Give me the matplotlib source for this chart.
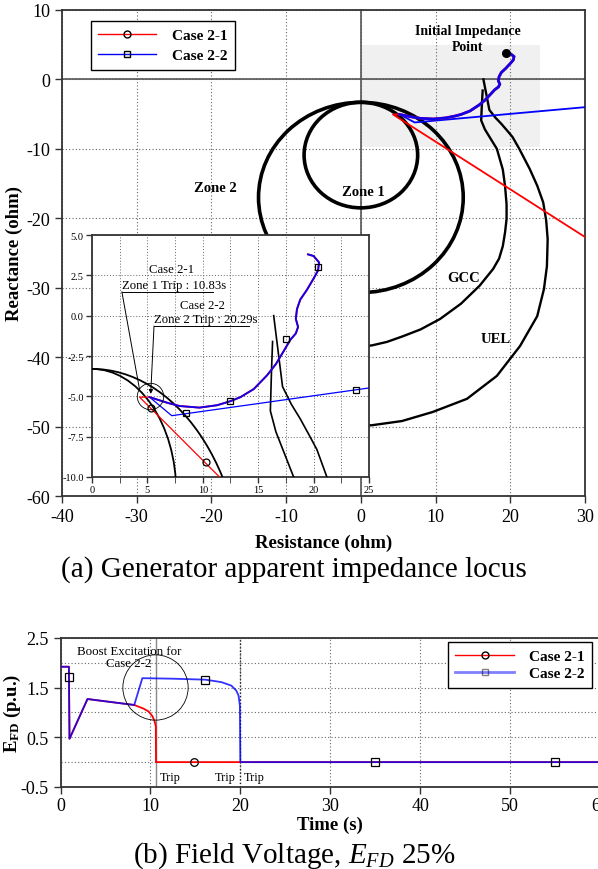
import numpy as np
import matplotlib
matplotlib.use('Agg')
import matplotlib.pyplot as plt
from matplotlib.patches import Circle, Rectangle
from matplotlib.lines import Line2D

plt.rcParams['font.family'] = ['Liberation Serif', 'DejaVu Serif']
plt.rcParams['mathtext.fontset'] = 'custom'
plt.rcParams['mathtext.rm'] = 'Liberation Serif'
plt.rcParams['mathtext.it'] = 'Liberation Serif:italic'
plt.rcParams['mathtext.bf'] = 'Liberation Serif:bold'
plt.rcParams['axes.unicode_minus'] = False

# ---------------- impedance plane data (ohm) ----------------
# pre-fault / swing locus, common to both cases
locus_r = [19.5, 20.0, 20.5, 20.4, 20.0, 19.4, 18.8, 18.5, 18.4, 18.6, 18.4,
           17.9, 17.3, 16.6, 15.8, 14.6, 13.4, 12.5, 11.3, 9.7, 7.9, 6.8, 5.2]
locus_x = [3.8, 3.7, 3.3, 2.8, 2.3, 1.6, 1.0, 0.4, -0.2, -0.7, -1.1,
           -1.5, -2.2, -3.0, -3.7, -4.55, -5.05, -5.3, -5.55, -5.7, -5.6, -5.4, -5.05]
# after the trip
case1_r = [5.2, 4.3, 30.0]
case1_x = [-5.05, -5.05, -22.7]
case2_r = [5.2, 7.2, 30.0]
case2_x = [-5.05, -6.2, -4.0]
# markers
case1_mr = [5.3, 10.3]
case1_mx = [-5.7, -9.1]
case2_mr = [20.4, 17.5, 12.5, 8.5, 23.8]
case2_mx = [3.0, -1.45, -5.3, -6.05, -4.6]
init_r, init_x = 19.4, 3.8

# relay characteristics: (centre R, centre X, radius)
zone1 = (0.0, -10.9, 7.6)
zone2 = (0.0, -17.0, 13.7)
gcc_r = [16.3, 16.2, 16.1, 16.6, 17.4, 18.2, 19.0, 19.3, 19.5, 19.5, 19.3, 19.0,
         18.5, 17.7, 15.9, 13.4, 10.6, 8.0, 5.6, 3.5, 1.5, -3.0]
gcc_x = [-1.6, -3.5, -5.9, -7.2, -8.6, -10.0, -13.0, -15.4, -18.0, -20.1, -22.0, -24.0,
         -25.8, -27.3, -29.7, -32.3, -34.5, -36.0, -37.0, -37.8, -38.3, -38.9]
uel_r = [16.4, 16.8, 17.2, 18.0, 18.8, 19.6, 20.3, 21.2, 22.6, 23.6, 24.4, 24.8, 25.0,
         24.9, 24.5, 23.6, 21.3, 18.2, 14.2, 9.6, 5.5, 1.5, -3.0]
uel_x = [0.0, -2.2, -4.4, -5.5, -6.4, -7.4, -8.3, -10.0, -12.9, -15.3, -17.7, -20.3, -23.0,
         -26.9, -30.2, -34.1, -38.4, -42.7, -46.0, -47.9, -49.2, -49.8, -50.1]

# ---------------- field voltage data ----------------
t_c1 = [0, 0.93, 1.0, 3.0, 8.2, 9.2, 9.8, 10.2, 10.45, 10.6, 10.62, 60]
efd_c1 = [1.92, 1.92, 0.47, 1.27, 1.15, 1.08, 1.02, 0.93, 0.83, 0.72, 0.0, 0.0]
t_c2 = [0, 0.93, 1.0, 3.0, 8.2, 9.1, 12.3, 16.1, 17.9, 19.0, 19.55, 19.8, 19.95, 20.0, 60]
efd_c2 = [1.92, 1.92, 0.47, 1.27, 1.15, 1.69, 1.68, 1.66, 1.61, 1.54, 1.44, 1.34, 1.14, 0.0, 0.0]
c1_mt, c1_me = [14.9], [0.0]
c2_mt, c2_me = [0.95, 16.1, 35.0, 55.0], [1.72, 1.66, 0.0, 0.0]
trip_times = [10.6, 20.0]

fig = plt.figure(figsize=(5.98, 8.70), dpi=100)

def style(ax, size, tlen):
    for s in ax.spines.values():
        s.set_color('#333333')
        s.set_linewidth(1.3)
    ax.tick_params(labelsize=size, length=tlen, color='#333333', width=1)

def draw_plane(ax, zlw, clw, llw):
    for cr, cx, rad in (zone1, zone2):
        ax.add_patch(Circle((cr, cx), rad, fill=False, ec='k', lw=zlw, zorder=3))
    ax.plot(gcc_r, gcc_x, 'k', lw=clw, zorder=3)
    ax.plot(uel_r, uel_x, 'k', lw=clw, zorder=3)
    ax.plot(case1_r, case1_x, color='red', lw=llw, zorder=4)
    ax.plot(case2_r, case2_x, color='blue', lw=llw, zorder=4)
    ax.plot(locus_r, locus_x, color='red', lw=llw * 1.5, zorder=4)
    ax.plot(locus_r, locus_x, color='blue', lw=llw * 1.5, alpha=0.93, zorder=5)

def make_legend(ax, anchor, spacing):
    h1 = Line2D([], [], color='red', lw=1, marker='o', mfc='none', mec='k', ms=5)
    h2 = Line2D([], [], color='blue', lw=1, marker='s', mfc='none', mec='k', ms=5)
    leg = ax.legend([h1, h2], ['Case 2-1', 'Case 2-2'], loc='upper left',
                    bbox_to_anchor=anchor, borderaxespad=0, fancybox=False,
                    edgecolor='k', framealpha=1, prop={'weight': 'bold', 'size': 11},
                    handlelength=3.8, handletextpad=1.0, numpoints=1,
                    labelspacing=spacing, borderpad=0.5)
    leg.get_frame().set_linewidth(1)
    return leg

# ---------------- (a) impedance locus ----------------
ax = fig.add_axes([0.1037, 0.4287, 0.8746, 0.5587])
ax.set_xlim(-40, 30)
ax.set_ylim(-60, 10)
ax.set_xticks(np.arange(-40, 31, 10))
ax.set_yticks(np.arange(-60, 11, 10))
ax.set_axisbelow(True)
ax.grid(ls=(0, (1, 2)), color='#666666', lw=0.8)
ax.add_patch(Rectangle((0, -9.8), 24, 14.8, fc='#f0f0f0', ec='none', zorder=0.2))
ax.axhline(0, color='#555555', lw=1.2, zorder=1)
ax.axvline(0, color='#555555', lw=1.2, zorder=1)
style(ax, 13, 5)
draw_plane(ax, 2.6, 1.7, 1.3)
ax.plot(init_r, init_x, 'ko', ms=5.5, zorder=6)

ax.text(-19.5, -15.5, 'Zone 2', fontsize=10.5, fontweight='bold', ha='center', va='center')
ax.text(0.3, -16.2, 'Zone 1', fontsize=10.5, fontweight='bold', ha='center', va='center')
ax.text(13.7, -28.5, 'GCC', fontsize=10.5, fontweight='bold', ha='center', va='center')
ax.text(18.0, -37.3, 'UEL', fontsize=10.5, fontweight='bold', ha='center', va='center')
ax.text(14.3, 5.9, 'Initial Impedance\nPoint', fontsize=10, fontweight='bold',
        ha='center', va='center', linespacing=1.35)

ax.set_xlabel('Resistance (ohm)', fontsize=13.5, fontweight='bold')
ax.set_ylabel('Reactance (ohm)', fontsize=13.5, fontweight='bold')
ax.xaxis.set_label_coords(0.5, -0.077)
ax.yaxis.set_label_coords(-0.075, 0.5)
make_legend(ax, (0.055, 0.977), 0.38)

# inset zoom
axin = fig.add_axes([0.1538, 0.4506, 0.4632, 0.2781])
axin.set_xlim(0, 25)
axin.set_ylim(-10, 5)
axin.set_xticks(np.arange(0, 26, 5))
axin.set_xticks(np.arange(0, 26, 2.5), minor=True)
axin.set_yticks(np.arange(-10, 5.1, 2.5))
axin.set_yticklabels(['%.1f' % v for v in np.arange(-10, 5.1, 2.5)])
axin.grid(which='both', ls=(0, (1, 2)), color='#666666', lw=0.7)
axin.set_axisbelow(True)
style(axin, 7.5, 4)
axin.tick_params(which='minor', length=4, color='#333333')
axin.tick_params(pad=2)
draw_plane(axin, 1.3, 1.2, 0.9)
axin.plot(case1_mr, case1_mx, 'o', mfc='none', mec='k', ms=5, mew=0.9, zorder=7)
axin.plot(case2_mr, case2_mx, 's', mfc='none', mec='k', ms=5, mew=0.9, zorder=7)

# trip annotations
trip_pt = (5.23, -5.0)
axin.plot(*trip_pt, 'o', ms=19, mfc='none', mec='k', mew=0.6, zorder=6)
axin.text(7.2, 2.9, 'Case 2-1', fontsize=9.2, ha='center', va='center')
axin.text(2.7, 1.55, 'Zone 1 Trip : 10.83s', fontsize=9.2, ha='left', va='bottom')
axin.plot([2.7, 10.9], [1.47, 1.47], 'k', lw=0.7)
axin.plot([2.7, 4.3], [1.47, -4.6], 'k', lw=0.7)
axin.text(10.0, 0.66, 'Case 2-2', fontsize=9.2, ha='center', va='center')
axin.text(5.6, -0.56, 'Zone 2 Trip : 20.29s', fontsize=9.2, ha='left', va='bottom')
axin.plot([5.6, 14.2], [-0.64, -0.64], 'k', lw=0.7)
axin.annotate('', xy=(5.3, -4.85), xytext=(5.6, -0.64),
              arrowprops=dict(arrowstyle='-|>', lw=0.7, color='k', mutation_scale=6,
                              shrinkA=0, shrinkB=0))

fig.text(0.492, 0.345, '(a) Generator apparent impedance locus', fontsize=21,
         ha='center', va='center')

# ---------------- (b) field voltage ----------------
axb = fig.add_axes([0.1012, 0.0943, 0.9021, 0.1713])
axb.set_xlim(0, 60)
axb.set_ylim(-0.5, 2.5)
axb.set_xticks(np.arange(0, 61, 10))
axb.set_yticks([-0.5, 0.5, 1.5, 2.5])
axb.set_yticks([0.0, 1.0, 2.0], minor=True)
axb.tick_params(which='minor', length=0)
axb.set_axisbelow(True)
axb.grid(which='both', ls=(0, (1, 2)), color='#666666', lw=0.8)
style(axb, 13, 5)
axb.tick_params(axis='x', pad=2)
axb.axvline(trip_times[0], color='#888888', lw=1, zorder=1)
axb.axvline(trip_times[1], color='#222222', lw=1, ls=(0, (1, 1.5)), zorder=1)

axb.plot(t_c1, efd_c1, color='red', lw=1.3, zorder=3)
axb.plot(t_c2, efd_c2, color='blue', lw=1.3, alpha=0.8, zorder=4)
axb.plot(c1_mt, c1_me, 'o', mfc='none', mec='k', ms=5.5, mew=0.9, zorder=5)
axb.plot(c2_mt, c2_me, 's', mfc='none', mec='k', ms=5.5, mew=0.9, zorder=5)

axb.plot(10.5, 1.51, 'o', ms=47, mfc='none', mec='k', mew=0.6, zorder=6)
axb.text(7.6, 2.12, 'Boost Excitation for\nCase 2-2', fontsize=9.3, ha='center',
         va='center', linespacing=1.0)
for tx in (12.2, 18.3, 21.6):
    axb.text(tx, -0.30, 'Trip', fontsize=8.8, ha='center', va='center')

axb.set_xlabel('Time (s)', fontsize=13.5, fontweight='bold')
axb.set_ylabel(r'$\mathbf{E_{FD}}$ (p.u.)', fontsize=13.5, fontweight='bold')
axb.xaxis.set_label_coords(0.5, -0.19)
axb.yaxis.set_label_coords(-0.07, 0.5)
leg2 = make_legend(axb, (0.718, 0.973), 0.2)
leg2.legend_handles[1].set_alpha(0.5)
leg2.legend_handles[1].set_linewidth(2)

fig.text(0.492, 0.017, r'(b) Field Voltage, $E_{FD}$ 25%', fontsize=21,
         ha='center', va='center')

fig.savefig('out.png', dpi=100)
